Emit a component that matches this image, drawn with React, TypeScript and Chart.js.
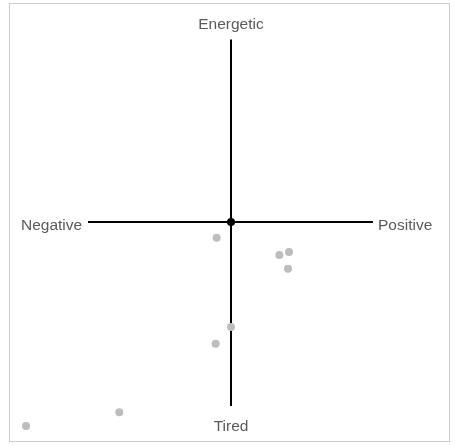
import React, { useEffect, useRef } from "react";
import { Chart, registerables } from "chart.js";

Chart.register(...registerables);

// Mood coordinates: x = Negative(-1) .. Positive(+1), y = Tired(-1) .. Energetic(+1)
const moodX: number[] = [-0.07, 0.236, 0.283, 0.278, 0.0, -0.075, -0.545, -1.0];
const moodY: number[] = [-0.077, -0.162, -0.147, -0.229, -0.515, -0.597, -0.933, -1.0];
const originX: number[] = [0];
const originY: number[] = [0];
const axisLabels = { top: "Energetic", bottom: "Tired", left: "Negative", right: "Positive" };

const quadrantPlugin = {
  id: "quadrant",
  beforeDatasetsDraw(chart: any) {
    const { ctx, scales } = chart;
    const cx = scales.x.getPixelForValue(0);
    const cy = scales.y.getPixelForValue(0);
    ctx.save();
    ctx.strokeStyle = "#000";
    ctx.lineWidth = 2;
    ctx.beginPath();
    ctx.moveTo(88, cy);
    ctx.lineTo(373, cy);
    ctx.moveTo(cx, 39.5);
    ctx.lineTo(cx, 406);
    ctx.stroke();

    ctx.fillStyle = "#5a5a5a";
    ctx.font = '15.5px "Liberation Sans", Arial, sans-serif';
    ctx.textBaseline = "alphabetic";
    ctx.textAlign = "center";
    ctx.fillText(axisLabels.top, cx, 28.5);
    ctx.fillText(axisLabels.bottom, cx, 431);
    ctx.textAlign = "left";
    ctx.fillText(axisLabels.left, 21, cy + 7.5);
    ctx.fillText(axisLabels.right, 378, cy + 7.5);
    ctx.restore();
  },
};

export default function App() {
  const ref = useRef<HTMLCanvasElement>(null);
  useEffect(() => {
    if (!ref.current) return;
    const chart = new Chart(ref.current, {
      type: "scatter",
      data: {
        datasets: [
          {
            label: "moods",
            data: moodX.map((x, i) => ({ x, y: moodY[i] })),
            backgroundColor: "#bdbdbd",
            borderWidth: 0,
            pointRadius: 4,
            clip: false as any,
          },
          {
            label: "origin",
            data: originX.map((x, i) => ({ x, y: originY[i] })),
            backgroundColor: "#000",
            borderWidth: 0,
            pointRadius: 4,
            clip: false as any,
          },
        ],
      },
      options: {
        animation: false,
        responsive: false,
        devicePixelRatio: 1,
        layout: { padding: { left: 26, right: 19, top: 18, bottom: 20 } },
        scales: {
          x: { type: "linear", min: -1, max: 1, display: false },
          y: { type: "linear", min: -1, max: 1, display: false },
        },
        plugins: { legend: { display: false }, tooltip: { enabled: false } },
      },
      plugins: [quadrantPlugin],
    });
    return () => chart.destroy();
  }, []);

  return (
    <div>
      <div
        style={{
          position: "fixed",
          left: 9,
          top: 3,
          width: 441,
          height: 439,
          boxSizing: "border-box",
          border: "1px solid #ccc",
        }}
      />
      <canvas
        ref={ref}
        width={455}
        height={446}
        style={{ position: "fixed", left: 0, top: 0, width: 455, height: 446 }}
      />
    </div>
  );
}
